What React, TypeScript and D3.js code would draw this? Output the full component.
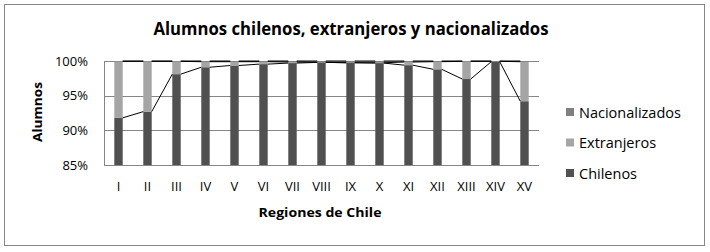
import React from "react";
import * as d3 from "d3";

const regions = ["I","II","III","IV","V","VI","VII","VIII","IX","X","XI","XII","XIII","XIV","XV"];
const chilenos = [91.8, 92.7, 98.1, 99.1, 99.35, 99.55, 99.7, 99.8, 99.75, 99.7, 99.4, 98.8, 97.4, 99.9, 94.2];
const nacionalizados = [0.05, 0.05, 0.05, 0.1, 0.1, 0.1, 0.15, 0.2, 0.25, 0.25, 0.15, 0.1, 0.05, 0.05, 0.1];
const extranjeros = chilenos.map((c, i) => +(100 - c - nacionalizados[i]).toFixed(2));
const yTicks = [85, 90, 95, 100];

const seriesNames = ["Chilenos", "Extranjeros", "Nacionalizados"];
const colors: Record<string, string> = { Chilenos: "#505050", Extranjeros: "#a5a5a5", Nacionalizados: "#7f7f7f" };

const W = 710, H = 252;
const plot = { left: 104, right: 539, top: 61, bottom: 165 };
const font = "'Open Sans', 'Noto Sans', sans-serif";

export default function App() {
  const x = d3.scaleBand<string>().domain(regions).range([plot.left, plot.right]).paddingInner(0.71).paddingOuter(0.355);
  const y = d3.scaleLinear().domain([85, 100]).range([plot.bottom, plot.top]);
  const rows = regions.map((r, i) => ({ region: r, Chilenos: chilenos[i], Extranjeros: extranjeros[i], Nacionalizados: nacionalizados[i] }));
  const stack = d3.stack<any>().keys(seriesNames)(rows);
  const bw = x.bandwidth();

  const seriesLines = stack.map((s) => {
    const segs: string[] = [];
    for (let i = 0; i < s.length - 1; i++) {
      const x1 = (x(regions[i]) as number) + bw;
      const x2 = x(regions[i + 1]) as number;
      segs.push(`M${x1},${y(Math.min(100, s[i][1]))}L${x2},${y(Math.min(100, s[i + 1][1]))}`);
    }
    return segs.join("");
  });

  return (
    <svg width={W} height={H} style={{ position: "absolute", left: 0, top: 0, background: "#fff" }}>
      <rect x={4.5} y={4.5} width={700} height={241} fill="#fff" stroke="#868686" strokeWidth={1} />
      <text x={351} y={35} textAnchor="middle" fontFamily={font} fontWeight="bold" fontSize={17} textLength={395} lengthAdjust="spacingAndGlyphs" fill="#000">
        Alumnos chilenos, extranjeros y nacionalizados
      </text>
      {yTicks.map((t) => (
        <g key={t}>
          <line x1={plot.left} x2={plot.right} y1={Math.round(y(t)) + 0.5} y2={Math.round(y(t)) + 0.5} stroke="#868686" strokeWidth={1} />
          <text x={88} y={y(t) + 4.5} textAnchor="end" fontFamily={font} fontSize={13} fill="#000">{t}%</text>
        </g>
      ))}
      <line x1={plot.left + 0.5} x2={plot.left + 0.5} y1={plot.top} y2={plot.bottom} stroke="#868686" strokeWidth={1} />
      {stack.map((s) => (
        <g key={s.key} fill={colors[s.key]}>
          {s.map((d, i) => {
            const y0 = Math.max(85, d[0]);
            const y1 = Math.min(100, d[1]);
            if (y1 <= y0) return null;
            return <rect key={i} x={x(regions[i])} y={y(y1)} width={bw} height={y(y0) - y(y1)} />;
          })}
        </g>
      ))}
      {seriesLines.map((p, i) => (
        <path key={i} d={p} fill="none" stroke="#000" strokeWidth={1} />
      ))}
      {regions.map((r) => (
        <text key={r} x={(x(r) as number) + bw / 2} y={191} textAnchor="middle" fontFamily={font} fontSize={13} fill="#000">{r}</text>
      ))}
      <text x={320} y={217} textAnchor="middle" fontFamily={font} fontWeight="bold" fontSize={13} textLength={123} lengthAdjust="spacingAndGlyphs" fill="#000">Regiones de Chile</text>
      <text transform={`translate(42,112) rotate(-90)`} textAnchor="middle" fontFamily={font} fontWeight="bold" fontSize={13} textLength={60} lengthAdjust="spacingAndGlyphs" fill="#000">Alumnos</text>
      {["Nacionalizados", "Extranjeros", "Chilenos"].map((n, i) => (
        <g key={n} transform={`translate(566,${112 + i * 30.5})`}>
          <rect x={0} y={-4} width={8} height={8} fill={colors[n]} />
          <text x={13} y={5.5} fontFamily={font} fontSize={14.5} fill="#000">{n}</text>
        </g>
      ))}
    </svg>
  );
}
